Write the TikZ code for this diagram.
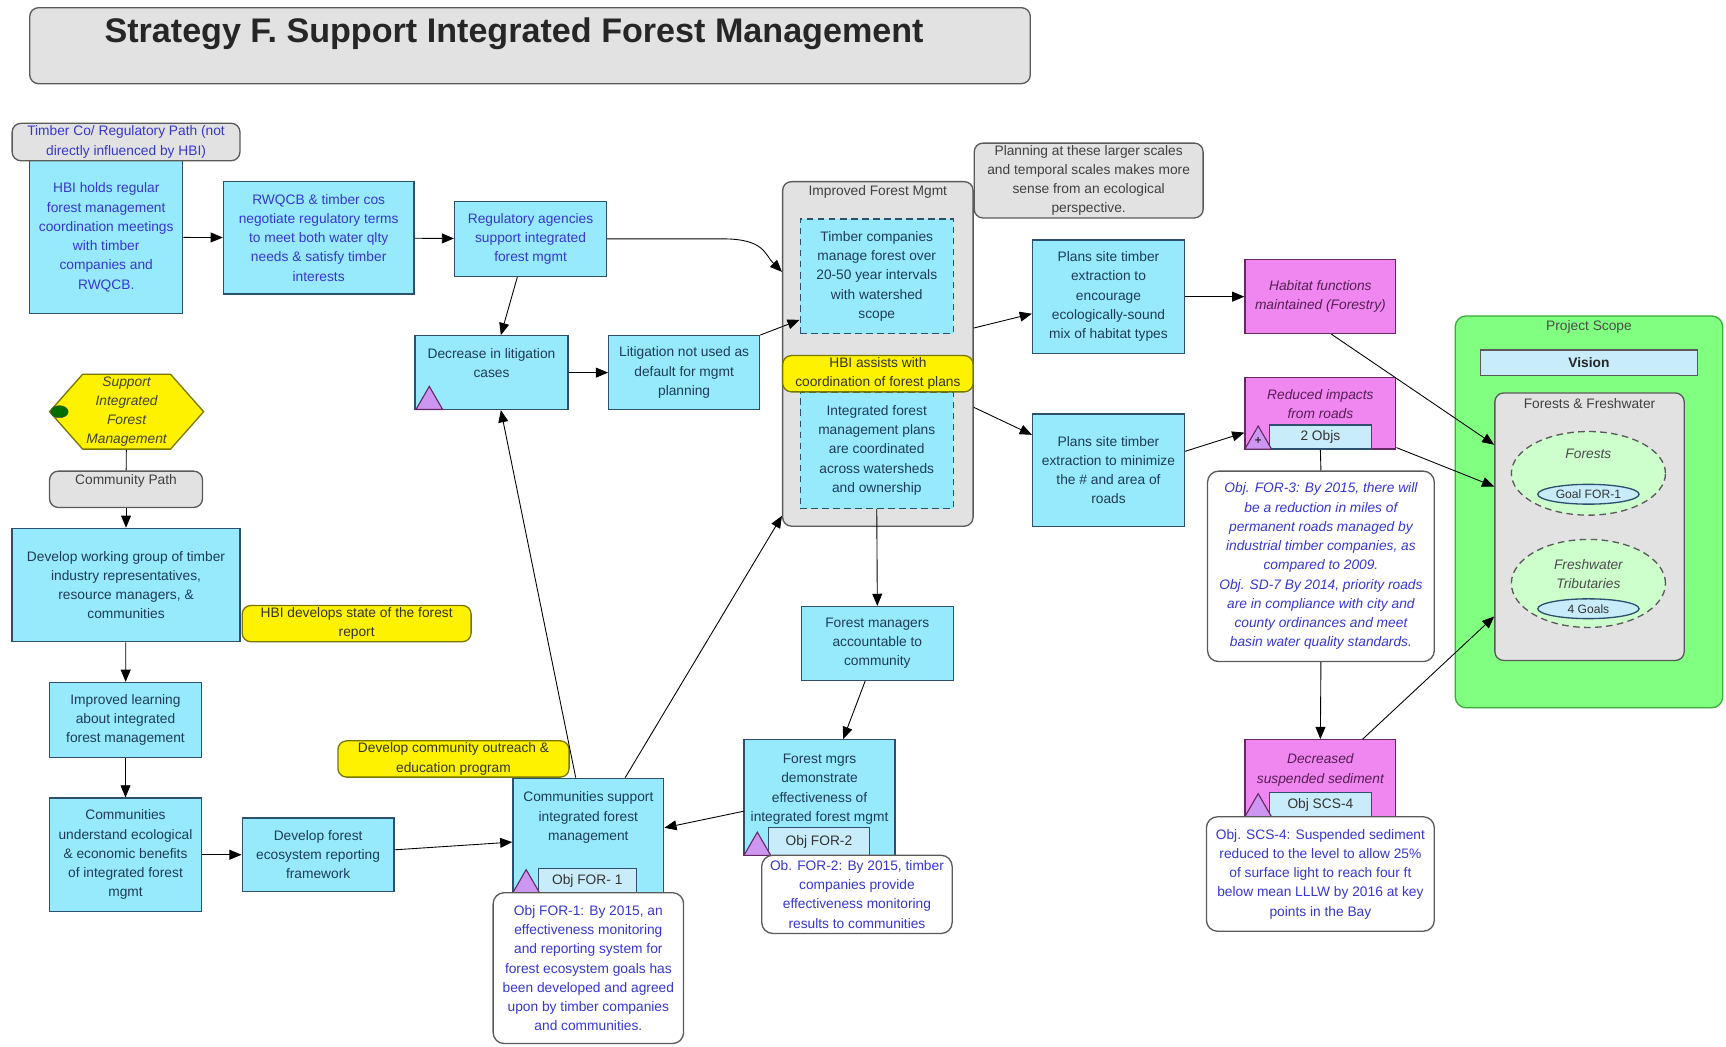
\documentclass[tikz,border=0pt]{standalone}
\usepackage{fontspec}
\setmainfont{Liberation Sans}
\usepackage{tikz}
\usetikzlibrary{arrows.meta,positioning,shapes}

\definecolor{boxfill}{RGB}{150,234,252}
\definecolor{boxline}{RGB}{45,80,110}
\definecolor{boxtext}{RGB}{30,60,90}
\definecolor{bluetext}{RGB}{55,55,205}
\definecolor{pinkfill}{RGB}{240,135,240}
\definecolor{pinkline}{RGB}{100,40,100}
\definecolor{pinktext}{RGB}{85,30,85}
\definecolor{grayfill}{RGB}{226,226,226}
\definecolor{grayline}{RGB}{90,90,90}
\definecolor{yellowline}{RGB}{120,120,0}
\definecolor{scopefill}{RGB}{128,255,128}
\definecolor{scopeline}{RGB}{60,170,60}
\definecolor{ellfill}{RGB}{204,255,204}
\definecolor{objfill}{RGB}{200,236,250}
\definecolor{trifill}{RGB}{205,150,240}
\definecolor{dotfill}{RGB}{0,110,0}

\newcommand{\boxfont}{\fontsize{12.5}{17.5}\selectfont}

\begin{document}
\begin{tikzpicture}[
    x=1pt, y=-1pt,
    >={Triangle[length=11pt,width=9pt]},
    box/.style={rectangle, draw=boxline, line width=1.2pt, fill=boxfill, text=boxtext, align=center, inner sep=0pt, font=\boxfont},
    bluebox/.style={box, text=bluetext},
    dashbox/.style={box, dash pattern=on 6pt off 4pt},
    pinkbox/.style={box, draw=pinkline, fill=pinkfill, text=pinktext, font=\boxfont\itshape},
    yellowbox/.style={box, rounded corners=8pt, draw=yellowline, fill=yellow, text=black!80},
    graybox/.style={box, rounded corners=8pt, draw=grayline, fill=grayfill, text=black!75},
    notebox/.style={box, rounded corners=10pt, draw=grayline, fill=white, text=bluetext},
    objbox/.style={box, fill=objfill, text=black!80},
    tri/.style={regular polygon, regular polygon sides=3, minimum size=28pt, inner sep=0pt, draw=pinkline, line width=1pt, fill=trifill},
    areaellipse/.style={ellipse, draw=grayline, dash pattern=on 6pt off 4pt, line width=1.2pt, fill=ellfill, text=black!70, font=\boxfont\itshape, align=center, inner sep=0pt, minimum width=140pt},
    goal/.style={ellipse, draw=boxline, line width=1.2pt, fill=objfill, inner sep=0pt, font=\fontsize{11}{13}\selectfont, text=black!80, minimum width=92pt, minimum height=18pt}
]
    \useasboundingbox (0,0) rectangle (1568,951);

    \node[graybox, minimum width=909pt, minimum height=69pt] (titlebox) at (481.5,41.5) {};
    \node[font=\fontsize{31}{36}\selectfont\bfseries, text=black!85] (titletext) at (467,31) {Strategy F. Support Integrated Forest Management};

    \node[bluebox, minimum width=139pt, minimum height=139pt] (hbimeet) at (96.5,215.5) {HBI holds regular\\forest management\\coordination meetings\\with timber\\companies and\\RWQCB.};
    \node[graybox, text=bluetext, minimum width=207pt, minimum height=34pt] (timberpath) at (114.5,129) {Timber Co/ Regulatory Path (not\\directly influenced by HBI)};
    \node[bluebox, minimum width=173pt, minimum height=102pt] (negotiate) at (289.5,216) {RWQCB \& timber cos\\negotiate regulatory terms\\to meet both water qlty\\needs \& satisfy timber\\interests};
    \node[bluebox, minimum width=138pt, minimum height=68pt] (regsupport) at (482,217) {Regulatory agencies\\support integrated\\forest mgmt};
    \node[box, minimum width=139pt, minimum height=67pt] (litdecrease) at (446.5,338.5) {Decrease in litigation\\cases\\~};
    \node[tri] (littri) at (390,365) {};
    \node[box, minimum width=137pt, minimum height=67pt] (litnotused) at (621.5,338.5) {Litigation not used as\\default for mgmt\\planning};

    \node[graybox, minimum width=173pt, minimum height=313pt] (forestmgmt) at (797.5,321.5) {};
    \node[font=\boxfont, text=black!75] (forestmgmttitle) at (797.5,174) {Improved Forest Mgmt};
    \node[dashbox, minimum width=139pt, minimum height=104pt] (timbercos) at (796.5,251) {Timber companies\\manage forest over\\20-50 year intervals\\with watershed\\scope};
    \node[dashbox, minimum width=139pt, minimum height=106pt] (intplans) at (796.5,409) {Integrated forest\\management plans\\are coordinated\\across watersheds\\and ownership};
    \node[yellowbox, minimum width=173pt, minimum height=33pt] (hbiassists) at (797.5,339.5) {HBI assists with\\coordination of forest plans};

    \node[graybox, minimum width=208pt, minimum height=68pt] (scalenote) at (989,164) {Planning at these larger scales\\and temporal scales makes more\\sense from an ecological\\perspective.};
    \node[box, minimum width=138pt, minimum height=103pt] (habitatmix) at (1007,269.5) {Plans site timber\\extraction to\\encourage\\ecologically-sound\\mix of habitat types};
    \node[box, minimum width=138pt, minimum height=102pt] (roadplans) at (1007,427) {Plans site timber\\extraction to minimize\\the \# and area of\\roads};

    \node[pinkbox, minimum width=137pt, minimum height=67pt] (habitatfn) at (1199.5,269.5) {Habitat functions\\maintained (Forestry)};
    \node[pinkbox, minimum width=137pt, minimum height=65pt] (roadimpacts) at (1199.5,375.5) {Reduced impacts\\from roads\\~};
    \node[objbox, minimum width=93pt, minimum height=22pt] (roadobjs) at (1199.5,397) {2 Objs};
    \node[tri, font=\fontsize{11}{11}\selectfont] (roadtri) at (1143,401) {+};
    \node[notebox, font=\boxfont\itshape, minimum width=206pt, minimum height=173pt] (for3note) at (1200,514.5) {Obj. FOR-3: By 2015, there will\\be a reduction in miles of\\permanent roads managed by\\industrial timber companies, as\\compared to 2009.\\Obj. SD-7 By 2014, priority roads\\are in compliance with city and\\county ordinances and meet\\basin water quality standards.};
    \node[pinkbox, minimum width=137pt, minimum height=70pt] (sediment) at (1199.5,707) {Decreased\\suspended sediment\\~};
    \node[objbox, minimum width=93pt, minimum height=22pt] (scs4obj) at (1199.5,731) {Obj SCS-4};
    \node[tri] (sedimenttri) at (1143,735) {};
    \node[notebox, minimum width=207pt, minimum height=104pt] (scs4note) at (1199.5,794) {Obj. SCS-4: Suspended sediment\\reduced to the level to allow 25\%\\of surface light to reach four ft\\below mean LLLW by 2016 at key\\points in the Bay};

    \node[box, rounded corners=10pt, draw=scopeline, fill=scopefill, minimum width=243pt, minimum height=356pt] (projscope) at (1443.5,465) {};
    \node[font=\boxfont, text=black!70] (projscopetitle) at (1443.5,297) {Project Scope};
    \node[box, draw=grayline, fill=objfill, text=black!85, font=\boxfont\bfseries, minimum width=197pt, minimum height=23pt] (vision) at (1443.5,329.5) {Vision};
    \node[graybox, minimum width=172pt, minimum height=243pt] (forestfresh) at (1444,478.5) {};
    \node[font=\boxfont, text=black!75] (forestfreshtitle) at (1444,367) {Forests \& Freshwater};
    \node[areaellipse, minimum height=76pt] (forests) at (1443,430) {Forests\\~\\~};
    \node[goal] (forgoal) at (1443,449) {Goal FOR-1};
    \node[areaellipse, minimum height=80pt] (freshwater) at (1443,530) {Freshwater\\Tributaries\\~};
    \node[goal] (freshgoals) at (1443,553) {4 Goals};

    \node[signal, signal to=west and east, signal pointer angle=97, draw=yellowline, line width=1.2pt, fill=yellow, minimum width=140pt, minimum height=68pt, inner sep=0pt, align=center, font=\boxfont\itshape, text=black!75] (strategy) at (115,374) {Support\\Integrated\\Forest\\Management};
    \node[ellipse, draw=black!70, fill=dotfill, minimum width=16pt, minimum height=11pt, inner sep=0pt] (strategydot) at (54,374) {};
    \node[graybox, minimum width=139pt, minimum height=33pt] (commpath) at (114.5,444.5) {Community Path\\~};
    \node[box, minimum width=207pt, minimum height=103pt] (workgroup) at (114.5,531.5) {Develop working group of timber\\industry representatives,\\resource managers, \&\\communities};
    \node[yellowbox, minimum width=208pt, minimum height=33pt] (stateforest) at (324,566.5) {HBI develops state of the forest\\report};
    \node[box, minimum width=138pt, minimum height=68pt] (learning) at (114,654) {Improved learning\\about integrated\\forest management};
    \node[box, minimum width=138pt, minimum height=103pt] (understand) at (114,776.5) {Communities\\understand ecological\\\& economic benefits\\of integrated forest\\mgmt};
    \node[box, minimum width=138pt, minimum height=67pt] (reporting) at (289,776.5) {Develop forest\\ecosystem reporting\\framework};
    \node[yellowbox, minimum width=210pt, minimum height=33pt] (outreach) at (412,689.5) {Develop community outreach \&\\education program};
    \node[box, minimum width=137pt, minimum height=104pt] (commsupport) at (534.5,759) {Communities support\\integrated forest\\management\\~\\~};
    \node[objbox, minimum width=89pt, minimum height=22pt] (for1obj) at (533.5,800) {Obj FOR- 1};
    \node[tri] (commtri) at (478,804) {};
    \node[notebox, minimum width=173pt, minimum height=137pt] (for1note) at (534.5,879.5) {Obj FOR-1: By 2015, an\\effectiveness monitoring\\and reporting system for\\forest ecosystem goals has\\been developed and agreed\\upon by timber companies\\and communities.};
    \node[box, minimum width=138pt, minimum height=67pt] (accountable) at (797,584.5) {Forest managers\\accountable to\\community};
    \node[box, minimum width=137pt, minimum height=105pt] (demonstrate) at (744.5,724.5) {Forest mgrs\\demonstrate\\effectiveness of\\integrated forest mgmt\\~};
    \node[objbox, minimum width=92pt, minimum height=25pt] (for2obj) at (744,764.5) {Obj FOR-2};
    \node[tri] (demotri) at (688,770) {};
    \node[notebox, minimum width=173pt, minimum height=71pt] (for2note) at (778.5,812.5) {Ob. FOR-2: By 2015, timber\\companies provide\\effectiveness monitoring\\results to communities};

    \draw[->, thick] (hbimeet) -- (negotiate);
    \draw[->, thick] (negotiate) -- (regsupport);
    \draw[->, thick] ([xshift=-12pt]regsupport.south) -- ([xshift=8.5pt]litdecrease.north);
    \draw[->, thick] (regsupport.east) -- ++(105,0) .. controls +(38,0) and +(-16,-16) .. ([yshift=74.5pt]forestmgmt.west);
    \draw[->, thick] (litdecrease) -- (litnotused);
    \draw[->, thick] (litnotused.north east) -- ([yshift=13pt]timbercos.south west);
    \draw[->, thick] ([yshift=23.5pt]forestmgmt.east) -- ([yshift=-15.5pt]habitatmix.west);
    \draw[->, thick] ([yshift=-48.5pt]forestmgmt.east) -- ([yshift=32pt]roadplans.west);
    \draw[->, thick] (habitatmix) -- (habitatfn);
    \draw[->, thick] ([yshift=17pt]roadplans.east) -- ([yshift=-17.5pt]roadimpacts.west);
    \draw[thick] (roadobjs.south) -- (for3note.north);
    \draw[->, thick] (for3note.south) -- (sediment.north);
    \draw[->, thick] ([xshift=10pt]habitatfn.south) -- ([yshift=74.5pt]forestfresh.west);
    \draw[->, thick] ([yshift=2pt]roadimpacts.south east) -- ([yshift=36.5pt]forestfresh.west);
    \draw[->, thick] ([xshift=38.5pt]sediment.north) -- ([yshift=-81.5pt]forestfresh.west);
    \draw[thick] (strategy) -- (commpath);
    \draw[->, thick] (commpath) -- (workgroup);
    \draw[->, thick] (workgroup) -- (learning);
    \draw[->, thick] (learning) -- (understand);
    \draw[->, thick] (understand) -- (reporting);
    \draw[->, thick] ([yshift=4.5pt]reporting.east) -- ([yshift=-6pt]commsupport.west);
    \draw[->, thick] ([xshift=-11.5pt]commsupport.north) -- ([xshift=8.5pt]litdecrease.south);
    \draw[->, thick] ([xshift=33.5pt]commsupport.north) -- ([yshift=10pt]forestmgmt.south west);
    \draw[->, thick] (intplans.south) -- (accountable.north);
    \draw[->, thick] ([xshift=-11pt]accountable.south) -- ([xshift=21.5pt]demonstrate.north);
    \draw[->, thick] ([yshift=-12.5pt]demonstrate.west) -- ([yshift=7pt]commsupport.east);
\end{tikzpicture}
\end{document}
